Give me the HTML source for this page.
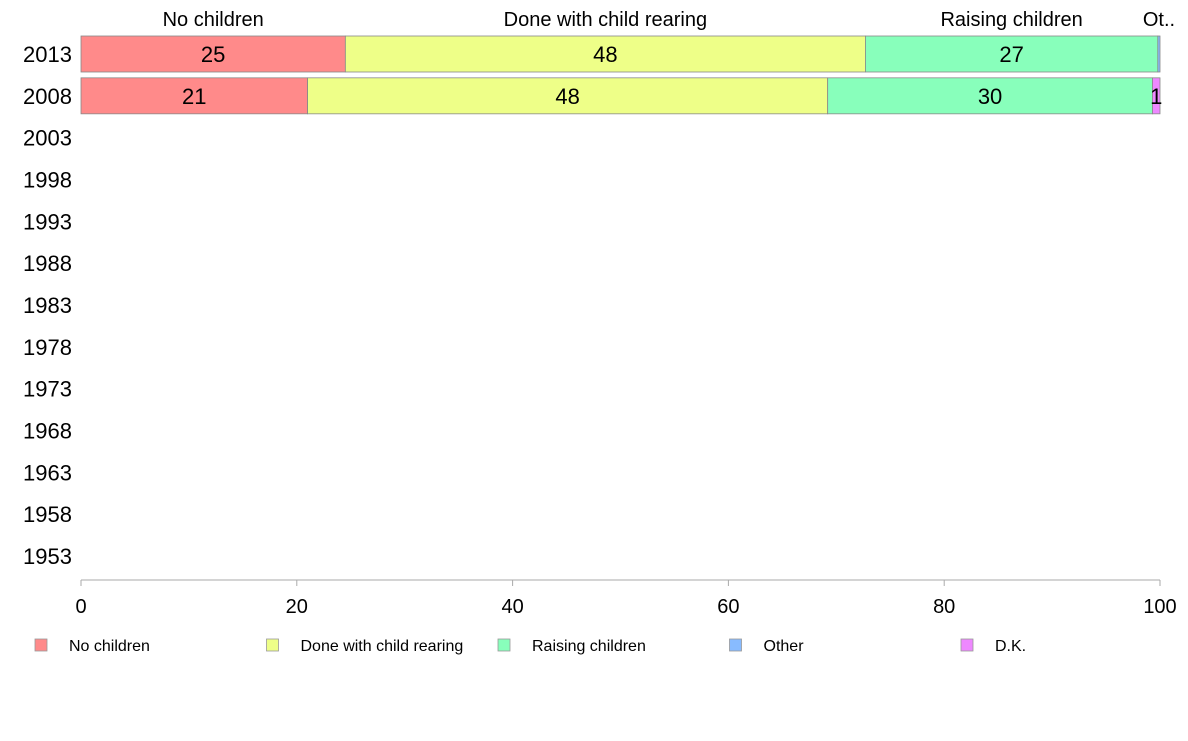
<!DOCTYPE html>
<html><head><meta charset="utf-8"><style>
body{margin:0;background:#fff;width:1188px;height:736px;overflow:hidden}
svg{font-family:"Liberation Sans",Arial,sans-serif}
</style></head><body>
<svg width="1188" height="736" id="c"></svg>
<script>
const years=["2013","2008","2003","1998","1993","1988","1983","1978","1973","1968","1963","1958","1953"];
const seriesNames=["No children","Done with child rearing","Raising children","Other","D.K."];
const colors=["#ff8a8a","#eeff88","#88ffbb","#88bbff","#ee88ff"];
const noChildren=[24.5,21.0];
const doneRearing=[48.2,48.2];
const raising=[27.1,30.1];
const other=[0.2,0.0];
const dk=[0.0,0.7];
const xTicks=[0,20,40,60,80,100];
const series=[noChildren,doneRearing,raising,other,dk];
const NS="http://www.w3.org/2000/svg",svg=document.getElementById('c');
const X0=81,X1=1160,xs=v=>X0+(X1-X0)*v/100;
const ys=i=>54+i*41.83;
function mk(t,a,txt){const e=document.createElementNS(NS,t);for(const k in a)e.setAttribute(k,a[k]);if(txt!=null)e.textContent=txt;svg.appendChild(e);return e;}
years.forEach((y,i)=>{const t=mk('text',{x:72,y:ys(i)+8,'text-anchor':'end','font-size':22,fill:'#000'},y);

});
series[0].forEach((_,r)=>{let acc=0;series.forEach((s,k)=>{const v=s[r];if(v<=0)return;
const b=mk('rect',{x:xs(acc),y:ys(r)-18,width:xs(acc+v)-xs(acc),height:36,fill:colors[k],stroke:'#888','stroke-width':0.8});


if(v>=0.5){const t=mk('text',{x:(xs(acc)+xs(acc+v))/2,y:ys(r)+8,'text-anchor':'middle','font-size':22,fill:'#000'},Math.round(v));

}
if(r===0){const lab=k===3?'Ot..':seriesNames[k];const t=mk('text',{x:k===3?1159:(xs(acc)+xs(acc+v))/2,y:26,'text-anchor':'middle','font-size':20,fill:'#000'},lab);

}
acc+=v;});});
const ax=mk('line',{x1:X0,x2:X1,y1:580,y2:580,stroke:'#aaa','stroke-width':1});


xTicks.forEach(v=>{const l=mk('line',{x1:xs(v),x2:xs(v),y1:580,y2:586,stroke:'#aaa'});


const t=mk('text',{x:xs(v),y:613,'text-anchor':'middle','font-size':20,fill:'#000'},v);

});
seriesNames.forEach((n,k)=>{const x=35+k*231.5;
const r=mk('rect',{x:x,y:639,width:12,height:12,fill:colors[k],stroke:'#999','stroke-width':0.8});


const t=mk('text',{x:x+34,y:651,'font-size':16,fill:'#000'},n);

});
</script></body></html>
